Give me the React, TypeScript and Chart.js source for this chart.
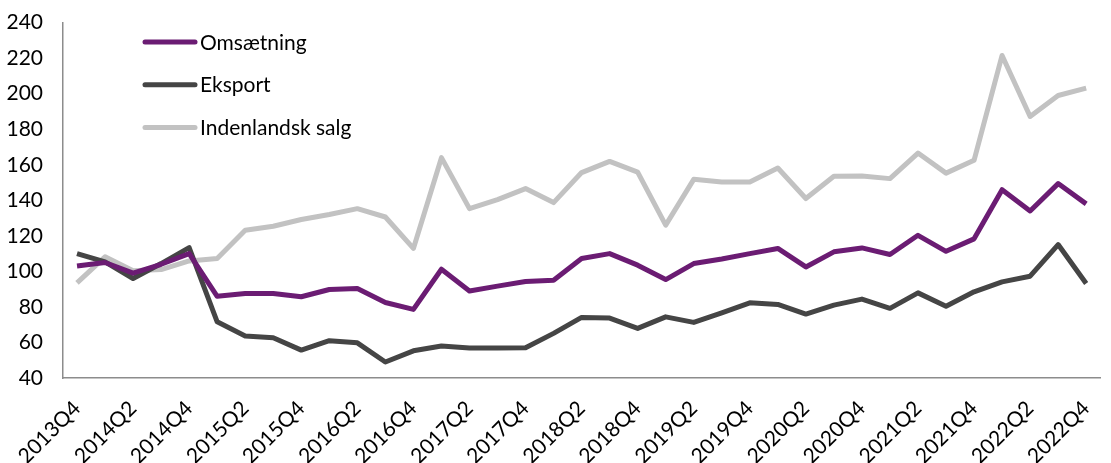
import React, { useEffect, useRef } from "react";
import { Chart, registerables } from "chart.js";

Chart.register(...registerables);

const quarters: string[] = [
  "2013Q4",
  "2014Q1", "2014Q2", "2014Q3", "2014Q4",
  "2015Q1", "2015Q2", "2015Q3", "2015Q4",
  "2016Q1", "2016Q2", "2016Q3", "2016Q4",
  "2017Q1", "2017Q2", "2017Q3", "2017Q4",
  "2018Q1", "2018Q2", "2018Q3", "2018Q4",
  "2019Q1", "2019Q2", "2019Q3", "2019Q4",
  "2020Q1", "2020Q2", "2020Q3", "2020Q4",
  "2021Q1", "2021Q2", "2021Q3", "2021Q4",
  "2022Q1", "2022Q2", "2022Q3", "2022Q4",
];

const omsaetning: number[] = [
  103, 105, 99, 104, 110,
  86, 87.5, 87.6, 85.7, 89.8, 90.4, 82.5, 78.6,
  101.2, 89, 91.7, 94.3, 95, 107.2, 110, 103.5,
  95.4, 104.4, 107, 110, 112.9, 102.5, 111, 113.2,
  109.5, 120.3, 111.3, 118.3, 146, 134, 149.4, 138,
];

const eksport: number[] = [
  110, 105.3, 96, 104.4, 113.4,
  71.6, 63.6, 62.7, 55.7, 61, 59.8, 49, 55.3,
  58, 56.9, 56.9, 57, 65.1, 74.1, 73.7, 67.9,
  74.4, 71.3, 76.7, 82.3, 81.4, 76, 81, 84.4,
  79.2, 87.9, 80.4, 88.5, 94.1, 97.3, 115.1, 93.2,
];

const indenlandsk: number[] = [
  93.5, 108.2, 100.3, 101, 105.9,
  107.2, 123.1, 125.4, 129.2, 132, 135.3, 130.6, 112.9,
  164, 135.3, 140.4, 146.6, 138.7, 155.6, 161.9, 155.9,
  126, 151.8, 150.3, 150.3, 158.2, 141, 153.5, 153.7,
  152.2, 166.6, 155.3, 162.5, 221.5, 187.2, 199, 203.1,
];

const yTicks: number[] = [40, 60, 80, 100, 120, 140, 160, 180, 200, 220, 240];

const FONT = "Lato";
const SHIFT = 10; // canvas is drawn 10px above the page top

const legendPlugin = {
  id: "insideLegend",
  afterDraw(chart: any) {
    const ctx = chart.ctx;
    ctx.save();
    chart.data.datasets.forEach((ds: any, i: number) => {
      const y = SHIFT + 42 + i * 42.7;
      ctx.strokeStyle = ds.borderColor;
      ctx.lineWidth = 5;
      ctx.lineCap = "round";
      ctx.beginPath();
      ctx.moveTo(145, y);
      ctx.lineTo(195, y);
      ctx.stroke();
      ctx.fillStyle = "#000000";
      ctx.font = `21px ${FONT}`;
      ctx.textAlign = "left";
      ctx.textBaseline = "middle";
      ctx.fillText(ds.label, 200, y + 1);
    });
    ctx.restore();
  },
};

export default function App() {
  const canvasRef = useRef<HTMLCanvasElement | null>(null);

  useEffect(() => {
    if (!canvasRef.current) return;
    const chart = new Chart(canvasRef.current, {
      type: "line",
      data: {
        labels: quarters,
        datasets: [
          {
            label: "Omsætning",
            data: omsaetning,
            borderColor: "#6B1C73",
            borderWidth: 5,
            pointRadius: 0,
            borderJoinStyle: "round",
            tension: 0,
          },
          {
            label: "Eksport",
            data: eksport,
            borderColor: "#454545",
            borderWidth: 5,
            pointRadius: 0,
            borderJoinStyle: "round",
            tension: 0,
          },
          {
            label: "Indenlandsk salg",
            data: indenlandsk,
            borderColor: "#C2C2C2",
            borderWidth: 5,
            pointRadius: 0,
            borderJoinStyle: "round",
            tension: 0,
          },
        ],
      },
      options: {
        responsive: false,
        animation: false,
        layout: { padding: { left: 5, top: 0, right: 0, bottom: 0 } },
        plugins: {
          legend: { display: false },
          tooltip: { enabled: false },
        },
        scales: {
          x: {
            type: "category",
            offset: true,
            grid: { display: false, drawTicks: false },
            border: { display: true, color: "#8C8C8C", width: 1.5 },
            ticks: {
              autoSkip: false,
              maxRotation: 45,
              minRotation: 45,
              padding: 18,
              color: "#000000",
              font: { family: FONT, size: 21 },
              callback: (_v: any, i: number) => (i % 2 === 0 ? quarters[i] : ""),
            },
            afterFit: (s: any) => {
              s.height = 85;
            },
          },
          y: {
            min: 40,
            max: 240,
            afterBuildTicks: (s: any) => {
              s.ticks = yTicks.map((v) => ({ value: v }));
            },
            grid: { display: false, drawTicks: false },
            border: { display: true, color: "#8C8C8C", width: 1.5 },
            ticks: {
              padding: 20,
              color: "#000000",
              font: { family: FONT, size: 21 },
            },
            afterFit: (s: any) => {
              s.width = 58;
            },
          },
        },
      },
      plugins: [legendPlugin],
    });
    return () => chart.destroy();
  }, []);

  return (
    <div
      style={{
        position: "fixed",
        left: 0,
        top: 0,
        width: 1111,
        height: 463,
        overflow: "hidden",
        background: "#ffffff",
      }}
    >
      <canvas
        ref={canvasRef}
        width={1122}
        height={463 + SHIFT}
        style={{ display: "block", marginTop: -SHIFT }}
      />
    </div>
  );
}
